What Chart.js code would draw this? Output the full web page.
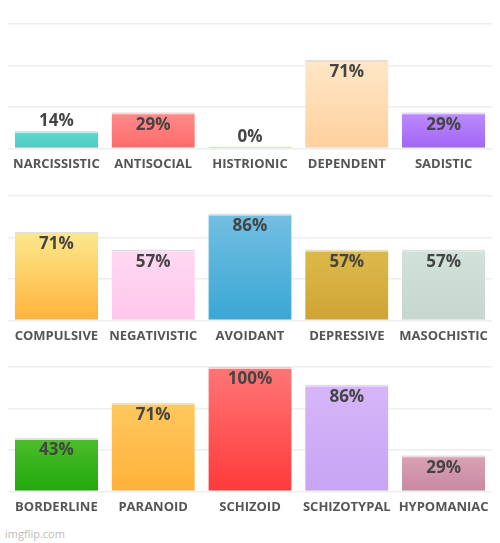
<!DOCTYPE html>
<html>
<head>
<meta charset="utf-8">
<script src="https://cdn.jsdelivr.net/npm/chart.js@4"></script>
<style>
  body { margin: 0; background: #fff; width: 500px; height: 543px; position: relative; overflow: hidden; }
  .panel { position: absolute; left: 0; width: 500px; height: 172px; }
  #wm { position: absolute; left: 5px; top: 526px; font: 11px "Open Sans", sans-serif; color: #bbb; }
</style>
</head>
<body>
<div class="panel" style="top:0"><canvas id="c1"></canvas></div>
<div class="panel" style="top:172px"><canvas id="c2"></canvas></div>
<div class="panel" style="top:343px"><canvas id="c3"></canvas></div>
<div id="wm">imgflip.com</div>
<script>
// Datos de los tres paneles
const labels1 = ["NARCISSISTIC", "ANTISOCIAL", "HISTRIONIC", "DEPENDENT", "SADISTIC"];
const values1 = [14, 29, 0, 71, 29];
const colors1 = [["#62dad0", "#4ccbc2"], ["#ff8c8c", "#ff6a6a"], ["#c4e89a", "#b0dc86"], ["#ffe7c8", "#ffd09c"], ["#bd8cff", "#a065f5"]];

const labels2 = ["COMPULSIVE", "NEGATIVISTIC", "AVOIDANT", "DEPRESSIVE", "MASOCHISTIC"];
const values2 = [71, 57, 86, 57, 57];
const colors2 = [["#fbe88e", "#ffb33a"], ["#ffd9f2", "#ffc6ec"], ["#74bfe2", "#3aa7d5"], ["#dcb94c", "#cfa534"], ["#d1e2da", "#c5d7cf"]];

const labels3 = ["BORDERLINE", "PARANOID", "SCHIZOID", "SCHIZOTYPAL", "HYPOMANIAC"];
const values3 = [43, 71, 100, 86, 29];
const colors3 = [["#4fbd2c", "#1fa90c"], ["#ffc85e", "#ffb13a"], ["#ff7676", "#ff3a3a"], ["#d6b6f8", "#c8a4f4"], ["#d9a2b5", "#c889a0"]];

// Etiquetas de porcentaje dentro o encima de la barra
const valueLabels = {
  id: "valueLabels",
  afterDatasetsDraw(chart) {
    const ctx = chart.ctx;
    const meta = chart.getDatasetMeta(0);
    ctx.save();
    ctx.font = "bold 17px 'Open Sans', sans-serif";
    ctx.fillStyle = "#444";
    ctx.textAlign = "center";
    meta.data.forEach((bar, i) => {
      const h = bar.base - bar.y;
      const v = chart.data.datasets[0].data[i];
      if (h > 30) {
        ctx.textBaseline = "top";
        ctx.fillText(v + "%", bar.x, bar.y + 4);
      } else {
        ctx.textBaseline = "bottom";
        ctx.fillText(v + "%", bar.x, bar.y - 1);
      }
    });
    ctx.restore();
  }
};

function renderPanel(id, labels, values, colors) {
  const ctx = document.getElementById(id).getContext("2d");
  new Chart(ctx, {
    type: "bar",
    data: {
      labels: labels,
      datasets: [{
        data: values,
        backgroundColor: function (context) {
          const chart = context.chart;
          const c = colors[context.dataIndex];
          if (!chart.chartArea) return c[1];
          const y = chart.scales.y;
          const top = y.getPixelForValue(values[context.dataIndex]);
          const bottom = y.getPixelForValue(0);
          if (bottom - top < 1) return c[1];
          const g = chart.ctx.createLinearGradient(0, top, 0, bottom);
          g.addColorStop(0, c[0]);
          g.addColorStop(1, c[1]);
          return g;
        },
        borderColor: "rgba(0,0,0,0.12)",
        borderWidth: { top: 2, left: 0, right: 0, bottom: 0 },
        borderSkipped: false,
        minBarLength: 2,
        categoryPercentage: 0.86,
        barPercentage: 1,
      }],
    },
    options: {
      responsive: true,
      maintainAspectRatio: false,
      animation: false,
      layout: { padding: { top: 24, left: 8, right: 8, bottom: 0 } },
      plugins: { legend: { display: false }, tooltip: { enabled: false } },
      scales: {
        x: {
          grid: { display: false },
          border: { display: false },
          ticks: { color: "#555", font: { family: "Open Sans", size: 13, weight: "bold" }, padding: 0, maxRotation: 0, autoSkip: false },
        },
        y: {
          min: 0,
          max: 100,
          display: true,
          ticks: { display: false, stepSize: 100 / 3 },
          border: { display: false },
          grid: { color: "#eeeeee", lineWidth: 1.5, drawTicks: false },
        },
      },
    },
    plugins: [valueLabels],
  });
}

renderPanel("c1", labels1, values1, colors1);
renderPanel("c2", labels2, values2, colors2);
renderPanel("c3", labels3, values3, colors3);
</script>
</body>
</html>
